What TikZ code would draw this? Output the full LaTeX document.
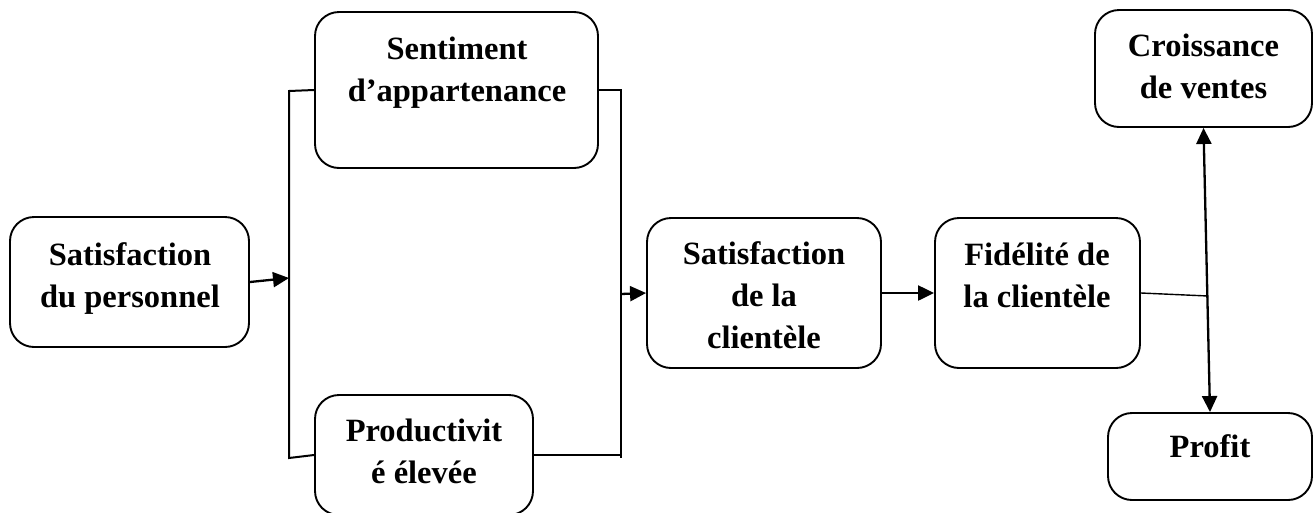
\documentclass[tikz,border=0pt]{standalone}
\usepackage{fontspec}
\setmainfont{Liberation Serif}
\usetikzlibrary{arrows.meta}
\tikzset{
  box/.style={draw, line width=1.9pt, rounded corners=24pt, inner sep=0pt},
  txt/.style={align=center, inner sep=0pt, font=\fontsize{32.5}{42}\selectfont\bfseries},
  ln/.style={line width=2pt},
  thin ln/.style={line width=1.4pt},
  arr/.style={line width=2.3pt, -{Triangle[length=16pt,width=15pt]}},
  darr/.style={line width=2.3pt, {Triangle[length=16pt,width=15pt]}-{Triangle[length=16pt,width=15pt]}}
}
\begin{document}
\begin{tikzpicture}[x=1pt,y=-1pt]
\useasboundingbox (0,0) rectangle (1316,512);
% boxes
\node[box, minimum width=239pt, minimum height=130pt] (sp) at (129.5,282) {};
\node[box, minimum width=283pt, minimum height=156pt] (sent) at (456.5,90) {};
\node[box, minimum width=218pt, minimum height=120pt] (prod) at (424,455) {};
\node[box, minimum width=234pt, minimum height=150pt] (sc) at (764,293) {};
\node[box, minimum width=205pt, minimum height=150pt] (fc) at (1037.5,293) {};
\node[box, minimum width=217pt, minimum height=117pt] (cv) at (1203.5,68.5) {};
\node[box, minimum width=204pt, minimum height=87pt] (pr) at (1210,456.5) {};
% texts
\node[txt] (tsp) at (130,278.5) {Satisfaction\\du personnel};
\node[txt] (tsent) at (457,73) {Sentiment\\d’appartenance};
\node[txt] (tprod) at (424,451.5) {Productivit\\é élevée};
\node[txt] (tsc) at (764,295.5) {Satisfaction\\de la\\clientèle};
\node[txt] (tfc) at (1037,275) {Fidélité de\\la clientèle};
\node[txt] (tcv) at (1203.5,66) {Croissance\\de ventes};
\node[txt] (tpr) at (1210,446.5) {Profit};
% bracket coordinates
\coordinate (lt) at (289,91);
\coordinate (lb) at (289,458);
\coordinate (lm) at (289,278);
\coordinate (rt) at (621,90);
\coordinate (rb) at (621,458);
\coordinate (rm) at (621,294);
\coordinate (jn) at (1208,296);
% connectors
\draw[ln] (sent.west) -- (lt) -- (lb) -- (prod.west);
\draw[ln] (sent.east) -- (rt) -- (rb);
\draw[ln] (prod.east) -- (prod.east -| rb);
\draw[arr] (sp.east) -- (lm);
\draw[arr] (rm) -- (sc.west);
\draw[arr] (sc.east) -- (fc.west);
\draw[thin ln] (fc.east) -- (jn);
\draw[darr] (cv.south) -- (pr.north);
\end{tikzpicture}
\end{document}
